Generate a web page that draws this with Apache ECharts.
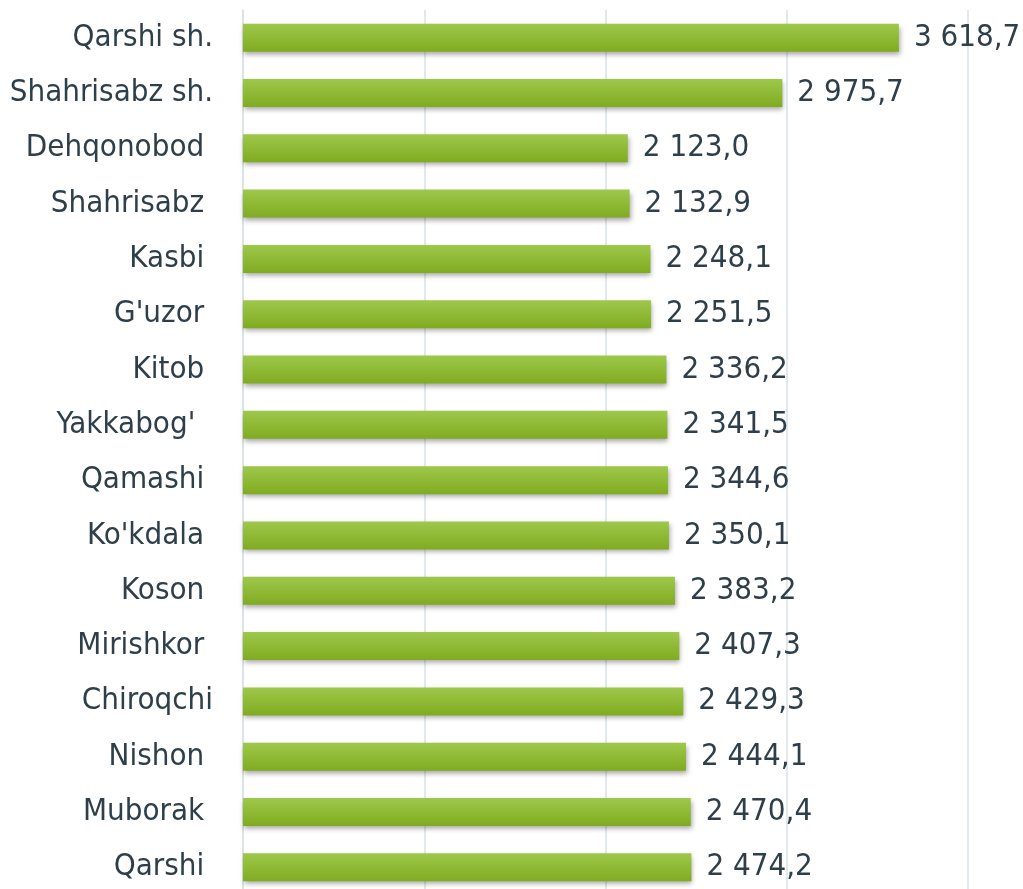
<!DOCTYPE html>
<html>
<head>
<meta charset="utf-8">
<script src="https://cdn.jsdelivr.net/npm/echarts@6/dist/echarts.min.js"></script>
<style>
  html, body { margin: 0; padding: 0; background: #fff; }
  #chart { width: 1023px; height: 889px; }
</style>
</head>
<body>
<div id="chart"></div>
<script>
// district names (some have trailing spaces as in the source)
const districts = [
  'Qarshi sh.', 'Shahrisabz sh.', 'Dehqonobod ', 'Shahrisabz ', 'Kasbi ', "G'uzor ",
  'Kitob ', "Yakkabog'  ", 'Qamashi ', "Ko'kdala ", 'Koson ', 'Mirishkor ',
  'Chiroqchi', 'Nishon ', 'Muborak ', 'Qarshi '
]
const values = [
  3618.7, 2975.7, 2123.0, 2132.9, 2248.1, 2251.5,
  2336.2, 2341.5, 2344.6, 2350.1, 2383.2, 2407.3,
  2429.3, 2444.1, 2470.4, 2474.2
]

const textColor = '#2e3f49'
const fontFamily = '"DejaVu Sans Condensed", "DejaVu Sans", sans-serif'

function fmt(v) {
  let parts = v.toFixed(1).split('.')
  let int = parts[0].replace(/\B(?=(\d{3})+(?!\d))/g, ' ')
  return int + ',' + parts[1]
}

let chart = echarts.init(document.getElementById('chart'))

let option = {
  animation: false,
  grid: {
    left: 243,
    right: 55,
    top: 10,
    height: 885,
    containLabel: false,
    outerBoundsMode: 'none'
  },
  xAxis: {
    type: 'value',
    min: 0,
    max: 4000,
    interval: 1000,
    axisLabel: { show: false },
    axisLine: { show: false },
    axisTick: { show: false },
    splitLine: {
      show: true,
      lineStyle: { color: '#d6e2e8', width: 1.5 }
    }
  },
  yAxis: {
    type: 'category',
    inverse: true,
    data: districts,
    axisTick: { show: false },
    axisLine: {
      show: true,
      lineStyle: { color: '#d6e2e8', width: 1.5 }
    },
    axisLabel: {
      color: textColor,
      fontFamily: fontFamily,
      fontSize: 31,
      margin: 30,
      padding: [3, 0, 0, 0]
    }
  },
  series: [
    {
      type: 'bar',
      data: values,
      barWidth: 28,
      itemStyle: {
        color: new echarts.graphic.LinearGradient(0, 0, 0, 1, [
          { offset: 0, color: '#9ec84b' },
          { offset: 1, color: '#80ab20' }
        ]),
        shadowColor: 'rgba(0, 0, 0, 0.35)',
        shadowBlur: 5,
        shadowOffsetX: 1,
        shadowOffsetY: 3
      },
      label: {
        show: true,
        position: 'right',
        distance: 15,
        color: textColor,
        fontFamily: fontFamily,
        fontSize: 31,
        padding: [3, 0, 0, 0],
        formatter: function(p) {
          return fmt(p.value)
        }
      }
    }
  ]
}

chart.setOption(option)
</script>
</body>
</html>
